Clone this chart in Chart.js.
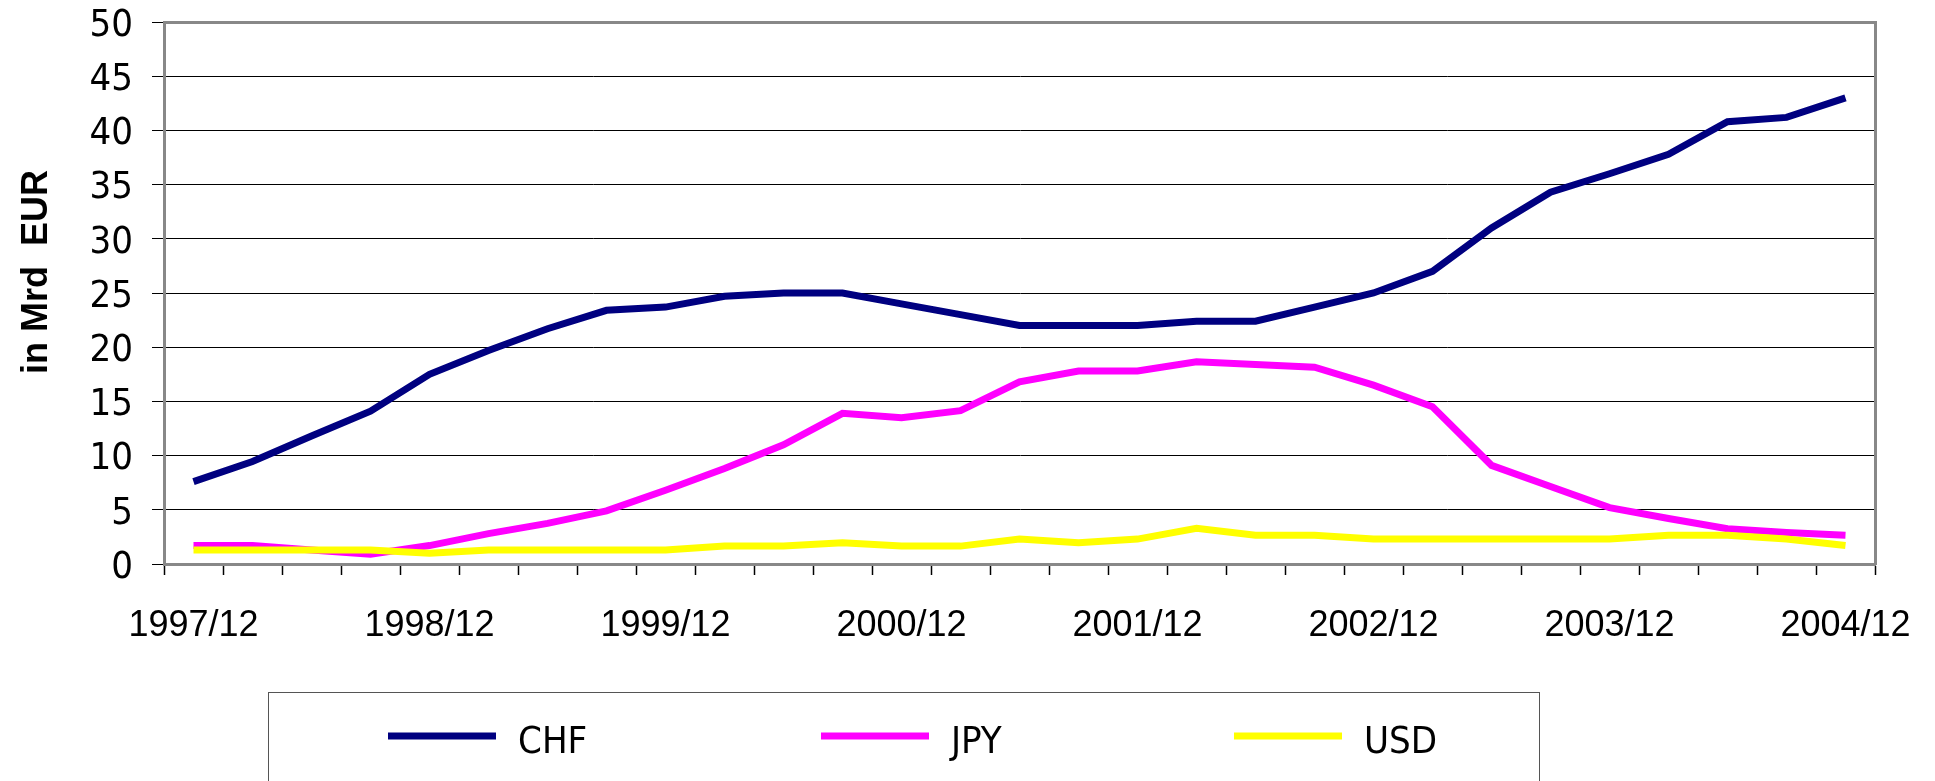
<!DOCTYPE html>
<html>
<head>
<meta charset="utf-8">
<title>CHF / JPY / USD in Mrd EUR</title>
<script src="https://cdn.jsdelivr.net/npm/chart.js@4.4.1/dist/chart.umd.min.js"></script>
<style>
  html, body { margin: 0; padding: 0; background: #fff; }
  canvas { display: block; }
</style>
</head>
<body>
<canvas id="grafico" width="1935" height="781"></canvas>
<script>
// =======================
// DATOS
// =======================
const quartale = [
  "1997/12", "1998/03", "1998/06", "1998/09",
  "1998/12", "1999/03", "1999/06", "1999/09",
  "1999/12", "2000/03", "2000/06", "2000/09",
  "2000/12", "2001/03", "2001/06", "2001/09",
  "2001/12", "2002/03", "2002/06", "2002/09",
  "2002/12", "2003/03", "2003/06", "2003/09",
  "2003/12", "2004/03", "2004/06", "2004/09",
  "2004/12"
];

const serieNombres = ["CHF", "JPY", "USD"];

const chf = [7.6, 9.45, 11.8, 14.1, 17.5, 19.7, 21.7, 23.4, 23.7, 24.7, 25.0, 25.0, 24.0, 23.0, 22.0, 22.0,
  22.0, 22.4, 22.4, 23.7, 25.0, 27.0, 31.0, 34.3, 36.0, 37.8, 40.8, 41.2, 43.0];
const jpy = [1.7, 1.7, 1.3, 0.9, 1.7, 2.8, 3.75, 4.9, 6.8, 8.8, 11.0, 13.9, 13.5, 14.15, 16.8, 17.8,
  17.8, 18.65, 18.4, 18.15, 16.5, 14.5, 9.1, 7.15, 5.2, 4.2, 3.25, 2.9, 2.65];
const usd = [1.3, 1.3, 1.3, 1.3, 1.0, 1.3, 1.3, 1.3, 1.3, 1.65, 1.65, 1.95, 1.65, 1.65, 2.3, 1.95,
  2.3, 3.3, 2.65, 2.65, 2.3, 2.3, 2.3, 2.3, 2.3, 2.65, 2.65, 2.3, 1.7];

const yTicks = { min: 0, max: 50, step: 5 };
const yTitulo = "in Mrd  EUR";

const colores = ["#000080", "#ff00ff", "#ffff00"];

const fuenteNarrow = '"Liberation Sans Narrow", "DejaVu Sans Condensed", "Liberation Sans", Arial, sans-serif';
const fuenteNormal = '"Liberation Sans", Arial, sans-serif';

// =======================
// TITULO EJE Y (vertical)
// =======================
const tituloY = {
  id: "tituloY",
  afterDraw(chart) {
    const ctx = chart.ctx;
    ctx.save();
    ctx.translate(47, 272);
    ctx.rotate(-Math.PI / 2);
    ctx.font = "bold 36px " + fuenteNormal;
    ctx.fillStyle = "#000";
    ctx.textAlign = "center";
    ctx.textBaseline = "alphabetic";
    ctx.fillText(yTitulo, 0, 0);
    ctx.restore();
  }
};

// =======================
// LEYENDA CON MARCO
// =======================
const leyendaCaja = {
  id: "leyendaCaja",
  afterDraw(chart) {
    const ctx = chart.ctx;
    const xs = [388, 821, 1234];
    ctx.save();
    ctx.strokeStyle = "#555";
    ctx.lineWidth = 1;
    ctx.strokeRect(268.5, 692.5, 1271, 120);

    chart.data.datasets.forEach((ds, i) => {
      ctx.strokeStyle = ds.borderColor;
      ctx.lineWidth = 7;
      ctx.beginPath();
      ctx.moveTo(xs[i], 736);
      ctx.lineTo(xs[i] + 108, 736);
      ctx.stroke();

      ctx.fillStyle = "#000";
      ctx.font = "38px " + fuenteNarrow;
      ctx.textAlign = "left";
      ctx.textBaseline = "alphabetic";
      ctx.fillText(ds.label, xs[i] + 130, 753);
    });
    ctx.restore();
  }
};

// =======================
// GRAFICO
// =======================
new Chart(document.getElementById("grafico"), {
  type: "line",
  data: {
    labels: quartale,
    datasets: [
      { label: serieNombres[0], data: chf, borderColor: colores[0], order: 2 },
      { label: serieNombres[1], data: jpy, borderColor: colores[1], order: 1 },
      { label: serieNombres[2], data: usd, borderColor: colores[2], order: 0 }
    ]
  },
  options: {
    responsive: false,
    devicePixelRatio: 1,
    animation: false,
    layout: { padding: { top: 22, right: 60, left: 0, bottom: 0 } },
    plugins: {
      legend: { display: false },
      tooltip: { enabled: false }
    },
    elements: {
      point: { radius: 0 },
      line: { tension: 0, borderWidth: 7, fill: false }
    },
    scales: {
      x: {
        offset: true,
        grid: {
          offset: true,
          drawOnChartArea: false,
          drawTicks: true,
          tickLength: 11,
          tickColor: "#000",
          tickWidth: 1.5
        },
        border: { color: "#888", width: 3 },
        ticks: {
          autoSkip: false,
          maxRotation: 0,
          padding: 29,
          color: "#000",
          font: { family: fuenteNormal, size: 36 },
          callback(v, i) {
            return i % 4 === 0 ? this.getLabelForValue(v) : "";
          }
        },
        afterFit(s) {
          s.height = 781 - 564;
          s.paddingLeft = 0;
          s.paddingRight = 0;
        }
      },
      y: {
        min: yTicks.min,
        max: yTicks.max,
        ticks: {
          stepSize: yTicks.step,
          padding: 19,
          labelOffset: 4,
          color: "#000",
          font: { family: fuenteNarrow, size: 38 }
        },
        grid: {
          color: c => (c.tick && c.tick.value === yTicks.max) ? "#888" : "#000",
          lineWidth: c => (c.tick && c.tick.value === yTicks.max) ? 3 : 1,
          tickLength: 12,
          tickColor: "#000",
          tickWidth: 1
        },
        border: { color: "#888", width: 3 },
        afterFit(s) {
          s.width = 164;
          s.paddingTop = 0;
          s.paddingBottom = 0;
        }
      },
      y2: {
        position: "right",
        display: true,
        min: yTicks.min,
        max: yTicks.max,
        grid: { display: false, drawTicks: false },
        ticks: { display: false },
        border: { color: "#888", width: 3 },
        afterFit(s) {
          s.width = 0;
          s.paddingTop = 0;
          s.paddingBottom = 0;
        }
      }
    }
  },
  plugins: [tituloY, leyendaCaja]
});
</script>
</body>
</html>
